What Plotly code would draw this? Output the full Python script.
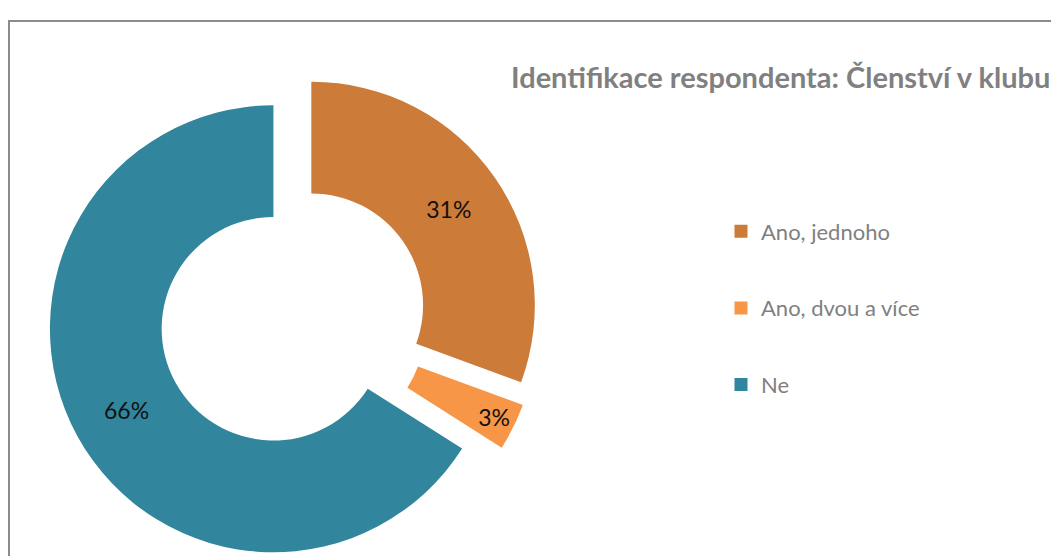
import plotly.graph_objects as go

# ---- data ----
categories = ["Ano, jednoho", "Ano, dvou a více", "Ne"]
shares = [30.6, 3.4, 66.0]
colors = ["#CC7B38", "#F79646", "#31859C"]
title_text = "Identifikace respondenta: Členství v klubu"

# figure size (the page adds an 8px body margin; the bottom is cropped by the window)
W, H = 1051, 580

fig = go.Figure()

# donut (all slices exploded)
R = 223.5
PULL = 0.1
box = 2 * R * (1 + PULL)
cx, cy = 285, 310          # figure pixels, from top-left
fig.add_trace(go.Pie(
    labels=categories,
    values=shares,
    marker=dict(colors=colors, line=dict(width=0)),
    hole=0.5,
    pull=PULL,
    sort=False,
    direction="clockwise",
    rotation=0,
    textinfo="percent",
    texttemplate="%{percent:.0%}",
    textposition="inside",
    insidetextorientation="horizontal",
    textfont=dict(family="Lato", size=23, color="#111111"),
    showlegend=False,
    hoverinfo="label+percent",
    domain=dict(x=[(cx - box / 2) / W, (cx + box / 2) / W],
                y=[(H - (cy + box / 2)) / H, (H - (cy - box / 2)) / H]),
))

# legend entries (one per category, so the gap between them can be set)
for name, col in zip(categories, colors):
    fig.add_trace(go.Scatter(
        x=[None], y=[None], mode="markers",
        marker=dict(symbol="square", size=13, color=col),
        name=name, legendgroup=name, showlegend=True, hoverinfo="skip",
    ))

fig.update_layout(
    width=W, height=H,
    margin=dict(l=0, r=0, t=0, b=0),
    paper_bgcolor="white", plot_bgcolor="white",
    xaxis=dict(visible=False), yaxis=dict(visible=False),
    uniformtext=dict(minsize=23, mode="show"),
    title=dict(
        text=title_text,
        x=503 / W, xanchor="left",
        y=1 - 70 / H, yanchor="middle",
        font=dict(family="Lato", size=29, color="#808080", weight="bold"),
    ),
    legend=dict(
        x=713 / W, xanchor="left",
        y=1 - 300 / H, yanchor="middle",
        font=dict(family="Lato", size=22, color="#808080"),
        tracegroupgap=45,
        bgcolor="rgba(0,0,0,0)",
        itemclick=False, itemdoubleclick=False,
    ),
    shapes=[dict(
        type="rect", xref="paper", yref="paper",
        x0=1 / W, x1=1.05, y0=-0.05, y1=1 - 13 / H,
        line=dict(color="#8C8C8C", width=2),
        fillcolor="rgba(0,0,0,0)", layer="below",
    )],
)

fig.write_html("out.html")
